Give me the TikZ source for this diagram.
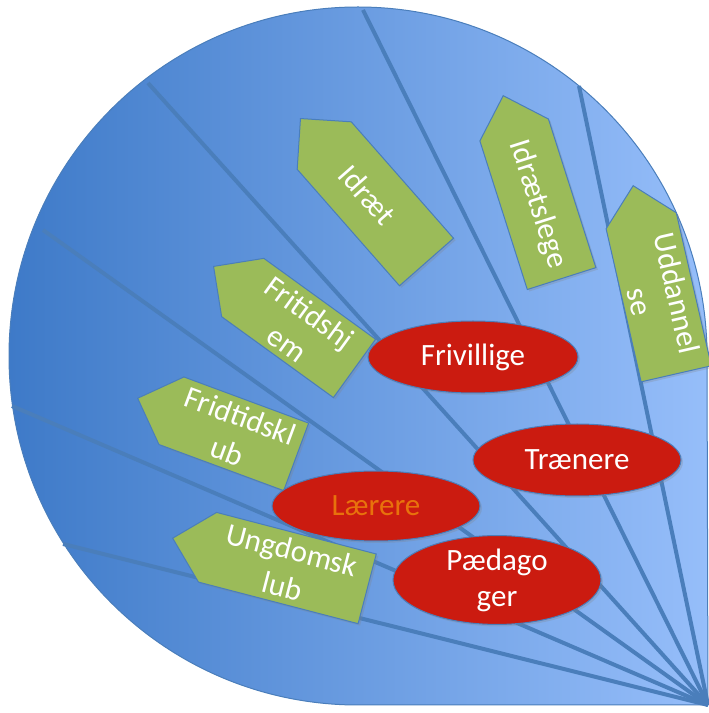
\documentclass[tikz,border=0pt]{standalone}
\usepackage{fontspec}
\setmainfont{Carlito}
\usetikzlibrary{shapes.symbols,shapes.geometric,shadows}
\definecolor{darkblue}{RGB}{62,122,200}
\definecolor{lightblue}{RGB}{150,190,250}
\definecolor{rayblue}{RGB}{74,126,187}
\definecolor{leafgreen}{RGB}{155,187,89}
\definecolor{rolered}{RGB}{203,27,16}
\definecolor{laererorange}{RGB}{232,114,12}
\begin{document}
\begin{tikzpicture}[x=1pt,y=1pt,
  arena/.style={draw=rayblue,line width=1pt,left color=darkblue,right color=lightblue},
  ray/.style={rayblue,line width=4pt},
  field/.style={shape=signal,signal to=west,signal pointer angle=90,fill=leafgreen,draw=rayblue,line width=1pt,
    text=white,minimum height=72pt,inner sep=0pt,align=center,anchor=west,
    font=\fontsize{31}{38}\selectfont,drop shadow={opacity=0.25,shadow xshift=2pt,shadow yshift=-2pt}},
  role/.style={ellipse,fill=rolered,draw=rayblue,line width=1pt,text=white,minimum width=208pt,minimum height=72pt,
    inner sep=0pt,align=center,font=\fontsize{31}{36}\selectfont,drop shadow={opacity=0.25,shadow xshift=2pt,shadow yshift=-2pt}}]
\useasboundingbox (0,0) rectangle (709,713);
\draw[arena] (707,357) arc[start angle=0,end angle=270,radius=349] -- (708,8) -- cycle;

\coordinate (corner) at (708,8);
\coordinate (r1) at (363,703);
\coordinate (r2) at (148,630);
\coordinate (r3) at (43,483);
\coordinate (r4) at (12,307);
\coordinate (r5) at (63,169);
\coordinate (r6) at (579,627);
\draw[ray] (corner) -- (r1);
\draw[ray] (corner) -- (r2);
\draw[ray] (corner) -- (r3);
\draw[ray] (corner) -- (r4);
\draw[ray] (corner) -- (r5);
\draw[ray] (corner) -- (r6);

\node[field,minimum width=191pt,rotate=-48.7] (idraet) at (300,595) {Idræt\hspace*{24pt}};
\node[field,minimum width=192pt,rotate=-72.3] (idraetslege) at (503,618) {Idrætslege};
\node[field,minimum width=193pt,rotate=-77.1] (uddannelse) at (633,528) {Uddannel\\se};
\node[field,minimum width=174pt,rotate=-35.9] (fritidshjem) at (213,447) {Fritidshj\\em};
\node[field,minimum width=169pt,rotate=-20.3] (fridtidsklub) at (137,315) {Fridtidskl\\ub};
\node[field,minimum width=201pt,rotate=-14.6] (ungdomsklub) at (172,175) {Ungdomsk\\lub};

\node[role,minimum width=210pt] (frivillige) at (473,356) {Frivillige};
\node[role] (traenere) at (577,253) {Trænere};
\node[role,minimum height=70pt,text=laererorange] (laerere) at (376,207) {Lærere};
\node[role,minimum height=74pt] (paedagoger) at (497,133) {Pædago\\ger};
\end{tikzpicture}
\end{document}
